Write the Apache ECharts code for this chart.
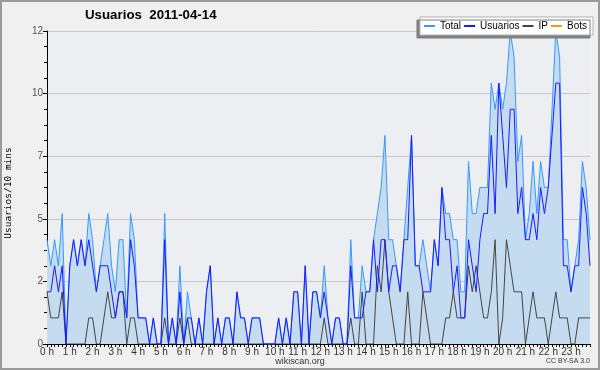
<!DOCTYPE html>
<html><head><meta charset="utf-8">
<script src="https://cdn.jsdelivr.net/npm/echarts@6/dist/echarts.min.js"></script>
<style>html,body{margin:0;padding:0;background:#f0f0f0}#c{width:600px;height:370px}</style>
</head><body><div id="c"></div>
<script>
const title = 'Usuarios  2011-04-14';
const yAxisTitle = 'Usuarios/10 mins';
const hourLabels = ['0 h','1 h','2 h','3 h','4 h','5 h','6 h','7 h','8 h','9 h','10 h','11 h','12 h','13 h','14 h','15 h','16 h','17 h','18 h','19 h','20 h','21 h','22 h','23 h'];
const yTicks = [0, 2.4, 4.8, 7.2, 9.6, 12];
const seriesNames = ['Total', 'Usuarios', 'IP', 'Bots'];
const total = [4,3,4,3,5,0,3,4,3,4,3,5,4,2,3,4,5,3,2,4,4,1,5,4,1,1,1,0,1,0,0,5,0,1,0,3,0,2,1,0,1,0,2,3,0,1,0,1,1,0,2,1,1,0,1,1,1,0,0,0,0,1,0,1,0,2,2,0,3,0,2,2,1,3,1,0,1,1,0,0,4,1,1,3,2,2,4,5,6,8,4,4,3,2,4,6,8,3,3,4,3,2,4,3,6,5,5,4,4,2,2,7,5,5,6,6,6,10,9,10,9,10,12,11,7,8,4,5,7,5,7,6,6,9,12,11,4,4,2,3,4,7,6,4];
const usuarios = [2,2,3,2,3,0,3,4,3,4,3,4,3,2,3,3,3,2,1,2,2,1,4,3,1,1,1,0,1,0,0,4,0,1,0,2,0,1,1,0,1,0,2,3,0,1,0,1,1,0,2,1,1,0,1,1,1,0,0,0,0,1,0,1,0,2,2,0,3,0,2,2,1,2,1,0,1,1,0,0,3,1,1,1,2,2,4,2,4,4,2,3,3,2,4,4,8,3,3,2,2,2,4,3,6,4,4,2,3,1,1,4,3,2,4,5,5,8,5,10,8,6,9,9,5,6,4,4,5,4,6,5,6,8,10,10,3,3,2,3,3,6,5,3];
const ip = [2,1,1,1,2,0,0,0,0,0,0,1,1,0,0,1,2,1,1,2,2,0,1,1,0,0,0,0,0,0,0,1,0,0,0,1,0,1,0,0,0,0,0,0,0,0,0,0,0,0,0,0,0,0,0,0,0,0,0,0,0,0,0,0,0,0,0,0,0,0,0,0,0,1,0,0,0,0,0,0,1,0,0,2,0,0,0,3,2,4,2,1,0,0,0,2,0,0,0,2,1,0,0,0,0,1,1,2,1,1,1,3,2,3,2,1,1,2,4,0,1,4,3,2,2,2,0,1,2,1,1,1,0,1,2,1,1,1,0,0,1,1,1,1];
const bots = [];
const slots = [];
for (let h = 0; h < 24; h++) for (let m = 0; m < 60; m += 10) slots.push(h + ':' + (m < 10 ? '0' : '') + m);

const chart = echarts.init(document.getElementById('c'), null, {renderer: 'canvas'});
const FONT = '"Liberation Sans", Arial, sans-serif';
chart.setOption({
  backgroundColor: '#f0f0f0',
  animation: false,
  title: {text: title, left: 80, top: 4, textStyle: {fontFamily: FONT, fontSize: 13.3, fontWeight: 'bold', color: '#000'}},
  legend: {
    data: seriesNames, right: 7, top: 17, padding: [3, 6, 3, 4],
    backgroundColor: '#fff', borderColor: '#b0b0b0', borderWidth: 1,
    shadowColor: '#808080', shadowOffsetX: -3, shadowOffsetY: 3, shadowBlur: 0,
    itemWidth: 11, itemHeight: 2, itemGap: 3, icon: 'rect',
    textStyle: {fontFamily: FONT, fontSize: 10, lineHeight: 12, color: '#000'}
  },
  grid: {left: 47, right: 10, top: 31, bottom: 26, show: true, backgroundColor: '#eceef1', borderWidth: 0},
  xAxis: {
    type: 'category', data: slots, boundaryGap: false,
    axisLine: {lineStyle: {color: '#000', width: 1}},
    axisTick: {interval: 0, length: 3, lineStyle: {color: '#000'}},
    axisLabel: {interval: 5, margin: 3, fontFamily: FONT, fontSize: 10, color: '#333',
      formatter: (v, i) => hourLabels[Math.floor(i / 6)]},
    splitLine: {show: false}
  },
  yAxis: {
    type: 'value', min: yTicks[0], max: yTicks[yTicks.length - 1], interval: yTicks[1],
    axisLine: {show: true, lineStyle: {color: '#000'}},
    axisTick: {show: true, length: 4, lineStyle: {color: '#000'}},
    minorTick: {show: true, splitNumber: 4, length: 3, lineStyle: {color: '#000'}},
    axisLabel: {fontFamily: FONT, fontSize: 10, color: '#555', margin: 4, formatter: v => String(Math.round(v))},
    splitLine: {show: true, lineStyle: {color: '#c8c8c8', width: 1}}
  },
  series: [
    {name: 'Total', type: 'line', data: total, symbol: 'none', lineStyle: {color: '#3399ff', width: 1},
      itemStyle: {color: '#3399ff'}, areaStyle: {color: '#c5dcf0', opacity: 1}, z: 1},
    {name: 'Usuarios', type: 'line', data: usuarios, symbol: 'none', lineStyle: {color: '#1a1aff', width: 1},
      itemStyle: {color: '#1a1aff'}, z: 3},
    {name: 'IP', type: 'line', data: ip, symbol: 'none', lineStyle: {color: '#444', width: 1},
      itemStyle: {color: '#444'}, z: 2},
    {name: 'Bots', type: 'line', data: bots, symbol: 'none', lineStyle: {color: '#ff9900', width: 1},
      itemStyle: {color: '#ff9900'}, z: 2}
  ],
  graphic: [
    {type: 'rect', shape: {x: 1, y: 1, width: 598, height: 368}, style: {fill: 'none', stroke: '#9a9a9a', lineWidth: 2}, silent: true},
    {type: 'text', x: 9, y: 193, rotation: Math.PI / 2, style: {text: yAxisTitle, font: '9.5px "DejaVu Sans Mono", monospace', fill: '#000', align: 'center', verticalAlign: 'middle'}},
    {type: 'text', left: 'center', top: 357, style: {text: 'wikiscan.org', font: '9px ' + FONT, fill: '#333'}},
    {type: 'text', right: 10, top: 358, style: {text: 'CC BY-SA 3.0', font: '7px ' + FONT, fill: '#333'}}
  ]
});
</script></body></html>
